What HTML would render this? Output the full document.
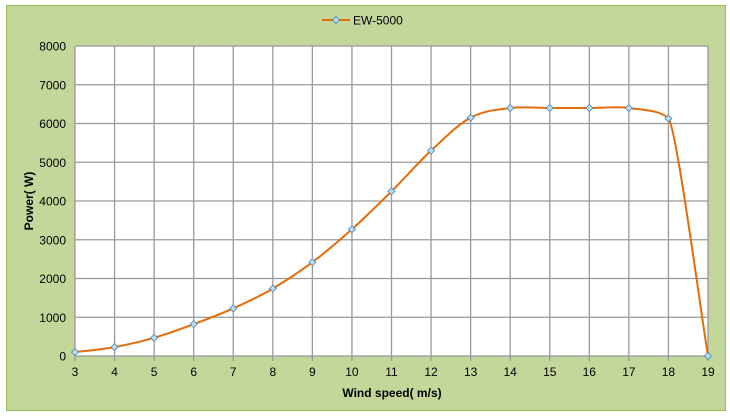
<!DOCTYPE html>
<html><head><meta charset="utf-8"><style>
body{margin:0;background:#fff;}
svg{display:block;font-family:"Liberation Sans",sans-serif;}
</style></head><body>
<svg id="s" width="730" height="417" xmlns="http://www.w3.org/2000/svg">
<rect x="6.5" y="5.5" width="719" height="405" fill="#c4d79b" stroke="#9bbb59" stroke-width="1"/>
<rect x="75" y="46" width="633" height="310" fill="#fff"/>
<g id="grid" stroke="#999" stroke-width="1.3"></g>
<g id="lab" font-size="12" fill="#000"></g>
<text x="0" y="0" transform="translate(33,201) rotate(-90)" font-size="12" font-weight="bold" text-anchor="middle">Power( W)</text>
<text x="392" y="397" font-size="12" font-weight="bold" text-anchor="middle">Wind speed( m/s)</text>
<line x1="322" y1="20" x2="350" y2="20" stroke="#e46c0a" stroke-width="2"/>
<path d="M336 16.5 L339.5 20 L336 23.5 L332.5 20 Z" fill="#b7dee8" stroke="#4f81bd" stroke-width="0.8"/>
<text x="353" y="24.5" font-size="12">EW-5000</text>
<path id="curve" fill="none" stroke="#e46c0a" stroke-width="2"/>
<g id="mk"></g>
</svg>
<script>
var X=function(v){return 75+(v-3)*39.5625},Y=function(p){return 356-p*0.03875};
var g=document.getElementById('grid'),l=document.getElementById('lab'),h='';
for(var i=0;i<=8;i++){var y=Y(i*1000);h+='<line x1="75" x2="708" y1="'+y+'" y2="'+y+'"/>';l.innerHTML+='<text x="66" y="'+(y+4.5)+'" text-anchor="end">'+(i*1000)+'</text>';}
for(var v=3;v<=19;v++){var x=X(v);h+='<line y1="46" y2="361" x1="'+x+'" x2="'+x+'"/>';l.innerHTML+='<text x="'+x+'" y="376" text-anchor="middle">'+v+'</text>';}
g.innerHTML=h;
var d=[100,230,470,820,1230,1740,2420,3270,4250,5300,6150,6400,6400,6400,6400,6130,0];
var P=d.map(function(p,i){return[X(i+3),Y(p)]});
var T=P.map(function(p,i){var a=P[Math.max(0,i-1)],b=P[Math.min(P.length-1,i+1)];return[(b[0]-a[0])/6,(b[1]-a[1])/6]});
T[15]=[T[15][0]*0.6,T[15][1]*0.2];
var s='M'+P[0][0]+' '+P[0][1];
for(var i=0;i<P.length-1;i++){var p1=P[i],p2=P[i+1];
s+=' C'+(p1[0]+T[i][0])+' '+(p1[1]+T[i][1])+' '+(p2[0]-T[i+1][0])+' '+(p2[1]-T[i+1][1])+' '+p2[0]+' '+p2[1];}
document.getElementById('curve').setAttribute('d',s);
var m='';P.forEach(function(p){m+='<path d="M'+p[0]+' '+(p[1]-3.5)+' L'+(p[0]+3.5)+' '+p[1]+' L'+p[0]+' '+(p[1]+3.5)+' L'+(p[0]-3.5)+' '+p[1]+' Z" fill="#b7dee8" stroke="#4f81bd" stroke-width="0.8"/>'});
document.getElementById('mk').innerHTML=m;
</script>
</body></html>
